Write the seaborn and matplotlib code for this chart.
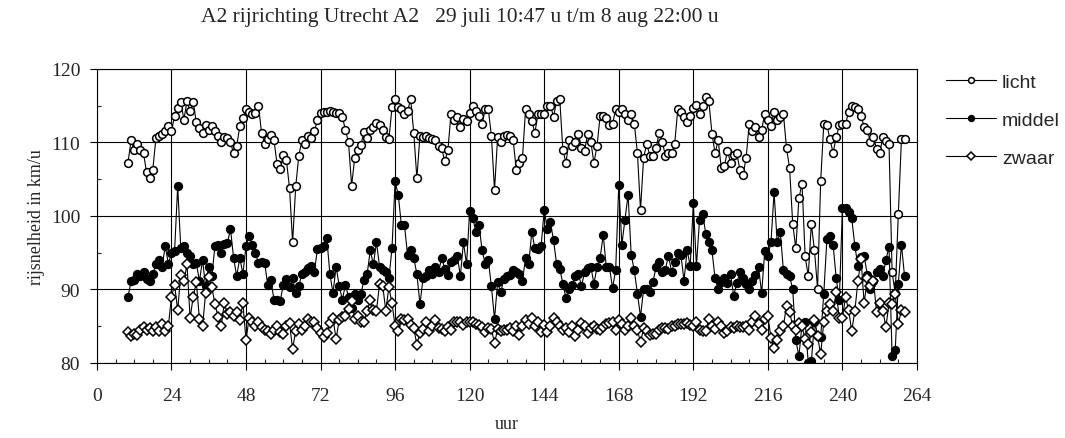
import seaborn as sns
import matplotlib.pyplot as plt
from matplotlib.ticker import MultipleLocator

# uurwaarden 10 .. 260
uur = list(range(10, 261))

licht = [
    107.2, 110.3, 108.9, 109.8, 109, 108.5, 105.9, 105.1, 106.3, 110.6, 110.8, 111.2, 111.5, 112.2,
    111.5, 113.6, 114.7, 115.5, 113.1, 115.6, 114.2, 115.5, 112.7, 112, 111.3, 112.3,
    111.7, 112.2, 111.5, 110.9, 110.1, 110.7, 110.6, 110, 108.5, 109.5, 112.2, 113.3,
    114.5, 114.1, 113.8, 114, 115, 111.3, 109.8, 110.4, 111, 110.3, 107, 106.4,
    108.3, 107.6, 103.8, 96.4, 104, 108.2, 110.3, 109.8, 110.9, 110.6, 111.5, 113,
    114, 114.1, 114.1, 114.2, 114.1, 114, 114, 113.5, 111.7, 110, 104.1, 107.9,
    108.9, 109.7, 111.4, 110.6, 111.7, 112.1, 112.6, 112.4, 111.7, 110.7, 110.4, 114.8,
    115.9, 114.8, 114.5, 113.9, 114.2, 115.9, 111.3, 105.1, 110.9, 110.7, 110.9, 110.6,
    110.4, 110.3, 109.5, 109.2, 107.4, 109, 113.9, 113.1, 113.5, 112.1, 113.2, 112.9,
    114, 115, 114.2, 113.6, 112.5, 114.5, 114.5, 110.9, 103.5, 110.7, 110.1, 110.9,
    111, 110.9, 110.3, 106.3, 107.2, 107.9, 114.5, 113.9, 112.9, 111.3, 113.9, 113.9,
    113.9, 115, 115, 113.5, 115.6, 115.9, 109, 107.2, 110.3, 109.5, 110, 111.2,
    109.2, 108.8, 111.2, 110.1, 107.2, 109.5, 113.6, 113.6, 113.3, 112.3, 112.5, 114.5,
    114.1, 114.5, 113.9, 113, 113.9, 112.5, 108.6, 100.8, 107.9, 109.8, 108.2, 108.2,
    109.2, 111.3, 110.1, 108.2, 108.5, 108.5, 109.8, 114.5, 114.1, 113.5, 112.7, 113.6,
    114.7, 115.1, 113.9, 115, 116.2, 115.6, 111.2, 108.5, 110.3, 106.5, 106.8, 108.8,
    107.2, 108.3, 108.5, 106.3, 105.5, 107.9, 112.5, 111.5, 112.1, 110.7, 111.7, 113.9,
    113.1, 112.2, 114.1, 113.1, 113.5, 113.9, 109.2, 106.5, 98.9, 95.6, 102.4, 104.4,
    94.5, 91.8, 98.9, 95.3, 90.1, 104.7, 112.5, 112.4, 110.4, 108.6, 110.7, 112.3,
    112.5, 112.5, 114.1, 115, 114.8, 114.5, 113.6, 112.1, 111.7, 110.1, 110.7, 109.1,
    108.5, 110.7, 110.2, 109.8, 92.3, 89.5, 100.3, 110.4, 110.4,
]

middel = [
    89, 91.1, 91.3, 92.1, 91.8, 92.4, 91.4, 91.2, 92.1, 93.4, 94, 93.1, 95.9, 93.5,
    94.9, 95.2, 104, 95.6, 95.9, 94.9, 94.5, 93.5, 93.6, 91.1, 94, 90.4,
    93, 91.8, 95.9, 96.1, 95, 96.2, 96.3, 98.2, 94.3, 91.8, 94.3, 92.1,
    95.9, 97.2, 96.1, 95, 93.6, 93.7, 93.6, 90.6, 91.3, 88.6, 88.5, 88.4,
    90.6, 91.4, 90.3, 91.5, 89.5, 90.5, 92.1, 92.4, 92.9, 93.2, 92.4, 95.5,
    95.6, 95.9, 97, 92.1, 89.5, 93.1, 90.5, 88.6, 90.6, 89, 87.5, 89.4,
    88.5, 89.4, 91.3, 92.1, 95.3, 93.4, 96.4, 93.1, 92.7, 92.3, 91.5, 95.6,
    104.7, 102.9, 98.8, 98.8, 94.7, 95.3, 94.3, 92.1, 88, 91.5, 91.8, 92.6,
    92.1, 93, 92.4, 94.3, 92.8, 91.9, 93.7, 94, 94.6, 91.8, 96.4, 93.4,
    100.7, 99.7, 97.8, 98.8, 95.3, 93.5, 94, 90.4, 86, 91, 89.6, 91.4,
    91.8, 92, 92.6, 92.3, 92.1, 91.2, 94.3, 93.4, 97.8, 95.6, 95.5, 95.9,
    100.8, 98.2, 99.1, 96.7, 93.4, 92.8, 90.8, 88.8, 90, 90.6, 91.8, 92.1,
    90.5, 92.3, 92.9, 93.1, 90.8, 93, 94.3, 97.4, 93, 93, 90.2, 92.6,
    104.2, 96.1, 99.5, 102.9, 94.7, 92.6, 89.4, 86.3, 90, 90, 89.7, 91,
    93, 93.7, 92.3, 92.7, 94.6, 92.4, 93.7, 95, 94.7, 91.2, 95.3, 93.2,
    101.7, 93.2, 99.5, 100.3, 97.6, 96.4, 95.3, 91.5, 90, 91, 91.5, 90.9,
    92.1, 89.1, 90.9, 92.3, 91.5, 90.8, 90, 91.2, 92, 93, 89.5, 95.2,
    94.5, 96.4, 103.2, 96.4, 97.8, 92.6, 92.1, 91.8, 90, 83.1, 80.9, 85.3,
    85.6, 80, 80.2, 85.6, 83.7, 83.5, 89.4, 96.8, 97.3, 96.1, 91.5, 88.5,
    101.1, 101.1, 100.5, 99.7, 95.9, 93.2, 94.4, 94.6, 92, 90, 91.1, 92.4,
    92.8, 91.8, 94, 95.8, 80.9, 81.7, 90.8, 96.1, 91.8,
]

zwaar = [
    84.2, 83.7, 84, 83.8, 84.5, 84.9, 84.5, 84.7, 84.4, 84.9, 84.4, 85.3, 84.3, 85,
    89, 90.6, 87.2, 92, 91.1, 93.4, 86.1, 89, 91, 86, 85, 89.5,
    91.7, 90.3, 88, 86.3, 85, 88.1, 86.7, 86.9, 86.4, 86.9, 85.9, 88.1,
    83.1, 86.1, 85.5, 85, 85.5, 84.9, 84.5, 84.3, 84, 84.5, 85, 84.2,
    84, 85, 85.4, 81.9, 84.4, 85.3, 84.5, 85, 86, 85.5, 85.5, 84.7,
    84.1, 83.5, 84.1, 85.4, 86.1, 83.2, 85.9, 86.3, 86.4, 87.3, 88.4, 86,
    86.4, 85.6, 85.5, 87.1, 88.5, 87.2, 87.1, 90.8, 90.5, 87.1, 90.3, 88.1,
    85, 84.3, 86, 85.8, 86, 85.2, 84.7, 82.5, 84.1, 84.6, 85.5, 84.3,
    85, 85.8, 84.7, 84.6, 84.4, 84.9, 84.5, 85.5, 85.5, 85.6, 85.2, 85.5,
    85.5, 85.6, 85.3, 85.2, 84.9, 84.2, 84.7, 84.6, 82.7, 84.6, 84.4, 84.5,
    84.5, 84.7, 84.4, 85, 83.8, 85, 85.8, 85.3, 86.1, 85, 85.6, 84.2,
    85.2, 84.2, 85, 86.1, 85.6, 85, 84.5, 84.7, 84.2, 85, 83.7, 84.5,
    85.4, 85, 84.1, 84.7, 85, 84.6, 84.5, 84.9, 85.3, 85.4, 85.6, 84.5,
    85.8, 85.3, 84.5, 85, 86.1, 85, 84.5, 82.8, 84.7, 84.3, 83.8, 84,
    84, 84.5, 84.7, 84.7, 84.6, 85, 85, 85.3, 85.3, 85.3, 85.4, 85.2,
    85, 85.6, 84.5, 84.3, 84.3, 86, 85, 84.6, 85.6, 85, 84.1, 84.4,
    84.9, 84.7, 85, 84.9, 84.9, 85, 84.5, 85.5, 86.4, 85.3, 84.5, 86,
    86.4, 83.4, 82, 83.1, 84.3, 85, 87.8, 86.9, 85, 84.5, 85.4, 85,
    83.2, 82.6, 84.2, 85.9, 83.6, 81.2, 85.6, 87.1, 88, 87.1, 89.6, 86.1,
    86.1, 89, 87.2, 84.3, 87.1, 91.1, 94.1, 88.1, 91.5, 90.5, 91.2, 86.9,
    88.2, 87.1, 84.9, 88.1, 88, 89.4, 85.3, 87.2, 86.9,
]

title = "A2 rijrichting Utrecht A2   29 juli 10:47 u t/m 8 aug 22:00 u"

sns.set_style("white")
plt.rcParams['font.family'] = ['Liberation Serif', 'DejaVu Serif']

fig = plt.figure(figsize=(10.65, 4.39), dpi=100)
ax = fig.add_axes([0.091, 0.171, 0.770, 0.670])

common = dict(ax=ax, color='black', linewidth=0.8, markersize=5.6,
              markeredgecolor='black', markeredgewidth=1.1)
sns.lineplot(x=uur, y=licht, marker='o', markerfacecolor='white', label='licht', **common)
sns.lineplot(x=uur, y=middel, marker='o', markerfacecolor='black', label='middel', **common)
sns.lineplot(x=uur, y=zwaar, marker='D', markerfacecolor='white', label='zwaar',
             **{**common, 'markersize': 4.9})

ax.set_xlim(0, 264)
ax.set_ylim(80, 120)
ax.xaxis.set_major_locator(MultipleLocator(24))
ax.xaxis.set_minor_locator(MultipleLocator(6))
ax.yaxis.set_major_locator(MultipleLocator(10))
ax.yaxis.set_minor_locator(MultipleLocator(5))
ax.grid(True, which='major', color='black', linewidth=0.8)
ax.set_axisbelow(True)
ax.tick_params(axis='both', which='major', direction='out', length=5, width=0.8,
               labelsize=14, color='black', left=True, bottom=True)
ax.tick_params(axis='x', which='major', pad=12)
ax.tick_params(axis='y', which='major', pad=7)
ax.tick_params(axis='both', which='minor', direction='in', length=3, width=0.8,
               bottom=True, left=True)
for s in ax.spines.values():
    s.set_color('black')
    s.set_linewidth(0.8)

ax.set_xlabel('uur', fontsize=13, labelpad=8)
ax.set_ylabel('rijsnelheid in km/u', fontsize=13, labelpad=4)
fig.text(0.432, 0.961, title, ha='center', va='center', fontsize=15.5)

handles, labels = ax.get_legend_handles_labels()
ax.get_legend().remove()
fig.legend(handles, labels, loc='upper left', bbox_to_anchor=(0.888, 0.83),
           frameon=False, borderpad=0, borderaxespad=0, labelspacing=1.05,
           handlelength=2.6, handletextpad=0.3, markerscale=0.75,
           prop={'family': 'Liberation Sans', 'size': 14})

fig.savefig('out.png', dpi=100, facecolor='white')
